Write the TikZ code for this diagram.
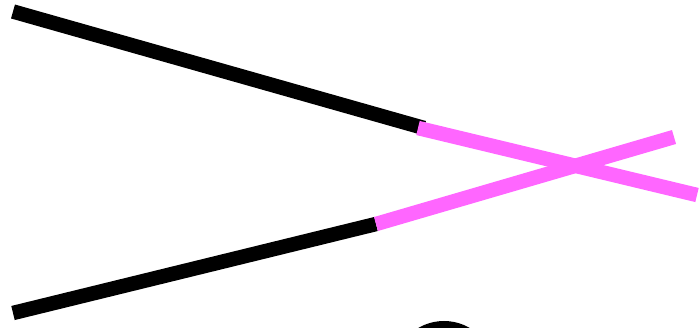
\documentclass[tikz,border=0pt]{standalone}
\definecolor{pinkline}{RGB}{255,102,255}
\begin{document}
\begin{tikzpicture}[x=1pt,y=-1pt,
  thickline/.style={line width=14.5pt,line cap=butt}]
\useasboundingbox (0,0) rectangle (700,327);
\coordinate (a1) at (13,11.5);
\coordinate (a2) at (424,128);
\coordinate (a0) at (418,128);
\coordinate (a3) at (697,195);
\coordinate (b1) at (13,313);
\coordinate (b2) at (376,224);
\coordinate (b3) at (674,137);
\draw[thickline,black] (a1) -- (a2);
\draw[thickline,black] (b1) -- (b2);
\draw[thickline,pinkline] (a0) -- (a3);
\draw[thickline,pinkline] (b2) -- (b3);
\begin{scope}
\clip (0,0) rectangle (700,327);
\draw[line width=14pt,black] (444,372) circle[radius=44];
\end{scope}
\end{tikzpicture}
\end{document}
